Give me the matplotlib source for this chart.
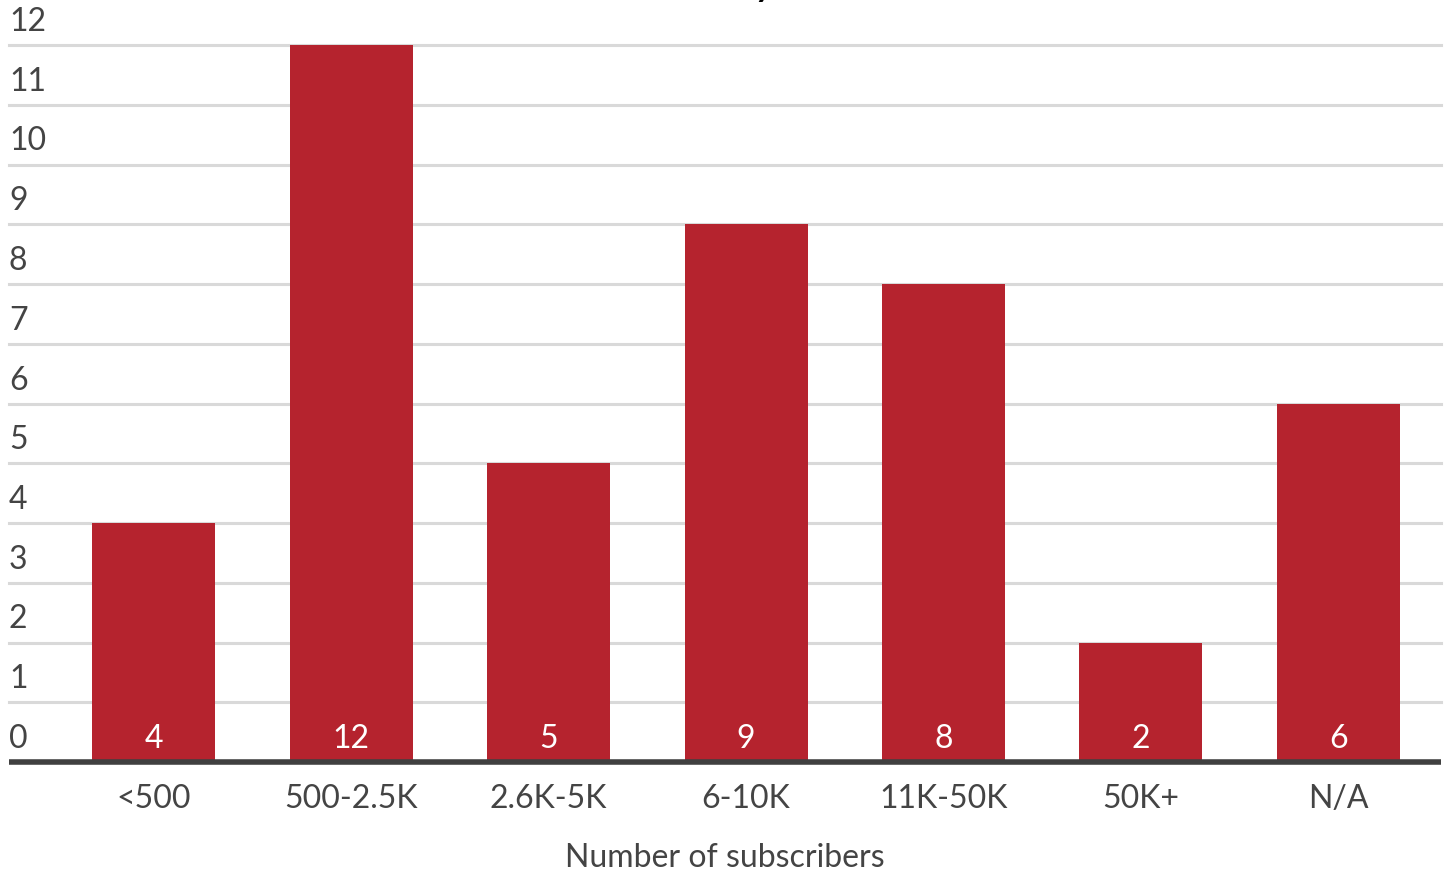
import matplotlib
matplotlib.use("Agg")
import matplotlib.pyplot as plt
import matplotlib.transforms as mtransforms

categories = ["<500", "500-2.5K", "2.6K-5K", "6-10K", "11K-50K", "50K+", "N/A"]
counts = [4, 12, 5, 9, 8, 2, 6]
y_ticks = list(range(0, 13))

BAR_COLOR = "#b5232e"
TEXT_COLOR = "#444444"
GRID_COLOR = "#d9d9d9"

plt.rcParams["font.family"] = ["Lato", "DejaVu Sans"]

W, H = 1450, 876
fig = plt.figure(figsize=(W / 100, H / 100), dpi=100)
left_px, right_px, bottom_px, top_px = 9, 1441, 762, 45
ax = fig.add_axes([left_px / W, 1 - bottom_px / H,
                   (right_px - left_px) / W, (bottom_px - top_px) / H])

x = list(range(len(categories)))
ax.bar(x, counts, width=0.623, color=BAR_COLOR, zorder=3)
ax.set_xlim(-0.733, 6.52)
ax.set_ylim(0, 12)

for v in y_ticks[1:]:
    ax.axhline(v, color=GRID_COLOR, lw=2.2, zorder=1, clip_on=False)
ax.axhline(0, color="#404040", lw=4, zorder=4, clip_on=False,
           solid_capstyle="butt")

for s in ax.spines.values():
    s.set_visible(False)
ax.set_yticks([])
ax.set_xticks(x)
ax.set_xticklabels(categories, fontsize=23, color=TEXT_COLOR)
ax.tick_params(axis="x", length=0, pad=16)

# y labels sit just above their gridlines, at the left edge
up = mtransforms.ScaledTranslation(0, 14 / 100, fig.dpi_scale_trans)
ytrans = mtransforms.blended_transform_factory(ax.transAxes, ax.transData) + up
for v in y_ticks:
    ax.text(0, v, str(v), transform=ytrans, ha="left", va="baseline",
            fontsize=23, color=TEXT_COLOR, clip_on=False)

# value labels inside the bars, near the base
vtrans = ax.transData + mtransforms.ScaledTranslation(0, 14 / 100, fig.dpi_scale_trans)
for xi, c in zip(x, counts):
    ax.text(xi, 0, str(c), transform=vtrans, ha="center", va="baseline",
            fontsize=23, color="white", zorder=5)

ax.set_xlabel("Number of subscribers", fontsize=23, color=TEXT_COLOR, labelpad=21)

# chart title, sitting above the top edge of the canvas
fig.text(0.477, 1.0 + 3 / H, "Publications by size", ha="center", va="baseline",
         fontsize=24, fontweight="bold", color="black")

fig.savefig("out.png", dpi=100)
